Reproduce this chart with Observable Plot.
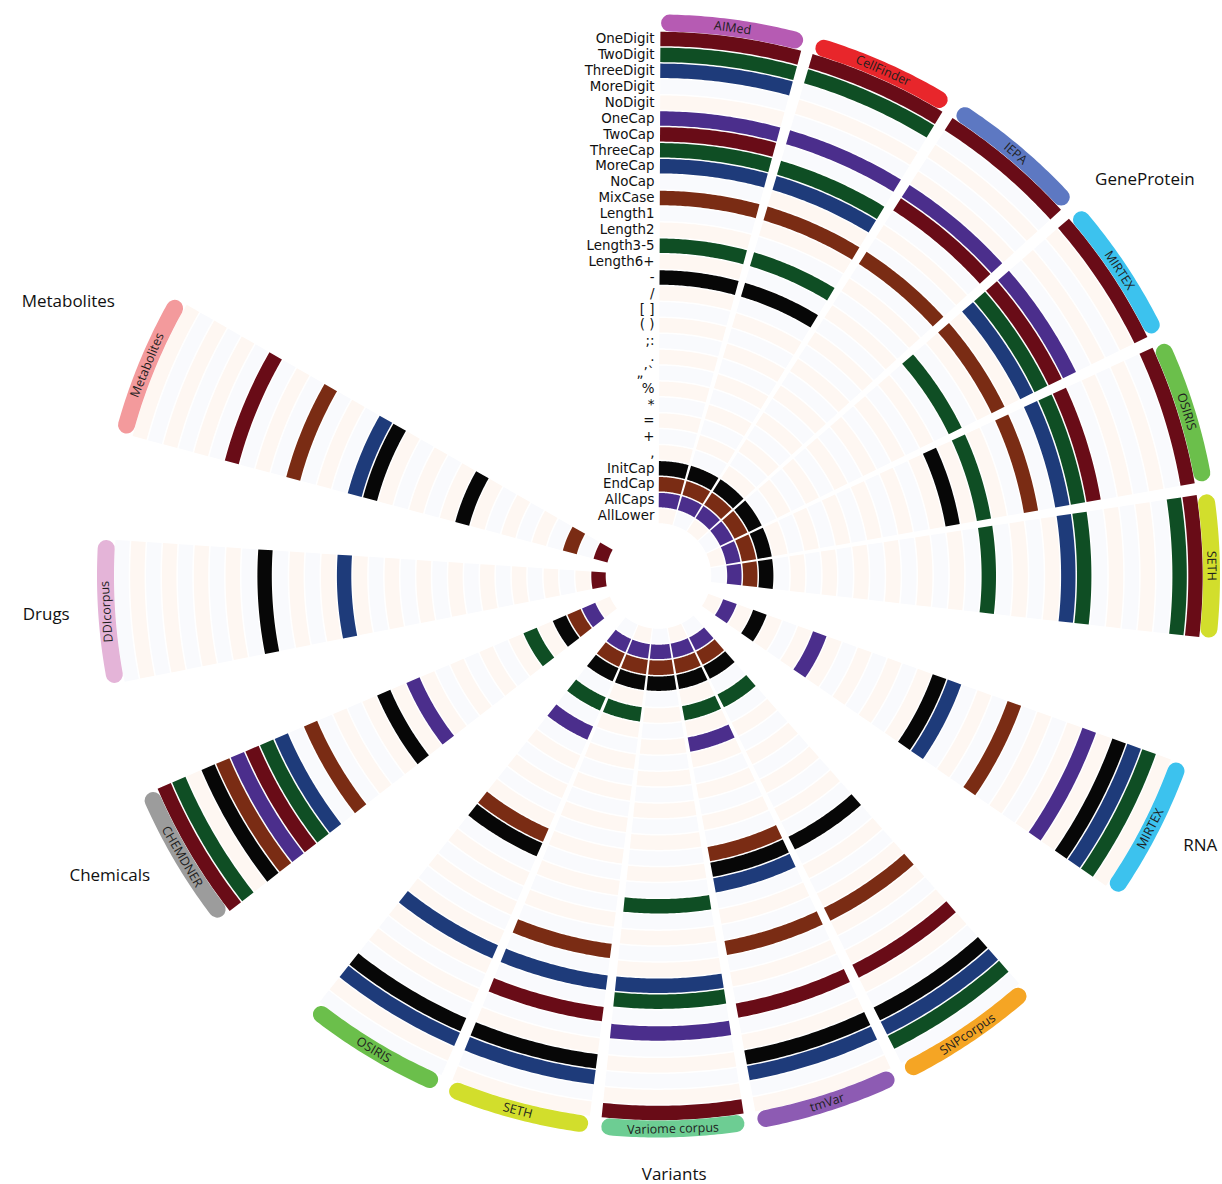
<!DOCTYPE html>
<html><head><meta charset="utf-8">
<script src="https://cdn.jsdelivr.net/npm/d3@7"></script>
<script src="https://cdn.jsdelivr.net/npm/@observablehq/plot@0.6"></script>
<style>body{margin:0;background:#fff;font-family:"Open Sans",sans-serif}</style>
</head><body><div id="chart"></div>
<script>
// ---------- data ----------
const features = ["OneDigit","TwoDigit","ThreeDigit","MoreDigit","NoDigit","OneCap","TwoCap","ThreeCap","MoreCap","NoCap","MixCase","Length1","Length2","Length3-5","Length6+","-","/","[ ]","( )",";:",".","\u201E\u2019`","%","*","=","+",",","InitCap","EndCap","AllCaps","AllLower"];
const groups = ["GeneProtein","RNA","Variants","Chemicals","Drugs","Metabolites"];
const corpora = ["AIMed","CellFinder","IEPA","MIRTEX","OSIRIS","SETH","MIRTEX","SNPcorpus","tmVar","Variome corpus","SETH","OSIRIS","CHEMDNER","DDIcorpus","Metabolites"];
const corpusGroup = ["GeneProtein","GeneProtein","GeneProtein","GeneProtein","GeneProtein","GeneProtein","RNA","Variants","Variants","Variants","Variants","Variants","Chemicals","Drugs","Metabolites"];
// indices (into features) of the highlighted cells for each corpus
const highlighted = [
  [0,1,2,5,6,7,8,10,13,15,27,28,29],        // AIMed
  [0,1,5,7,8,10,13,15,27,28,29],            // CellFinder
  [0,5,6,10,27,28,29],                      // IEPA
  [0,5,6,7,8,10,13,27,28,29],               // MIRTEX (GeneProtein)
  [0,6,7,8,10,13,15,27,28,29],              // OSIRIS (GeneProtein)
  [0,1,7,8,13,27,28,29],                    // SETH (GeneProtein)
  [1,2,3,5,10,14,15,23,27,29],              // MIRTEX (RNA)
  [1,2,3,6,10,15,25,27,28,29],              // SNPcorpus
  [2,3,6,10,14,15,16,23,25,27,28,29],       // tmVar
  [0,5,7,8,13,27,28,29],                    // Variome corpus
  [2,3,6,8,10,25,27,28,29],                 // SETH (Variants)
  [2,3,8,15,16,23,25,27,28,29],             // OSIRIS (Variants)
  [0,1,3,4,5,6,7,8,10,15,17,25,27,28,29],   // CHEMDNER
  [9,14,30],                                // DDIcorpus
  [6,10,14,15,21,28,30]                     // Metabolites
];

// ---------- styles / layout ----------
const featurePalette = ["#690c17","#0f4e24","#1e3b7a","#070707","#7a2c14","#4b2e8c"]; // cycles over feature rings
const paleColors = ["#fef7f2","#f9fafd"];
const corpusColor = ["#b65bb3","#e8262b","#5d78c2","#3cc2ee","#6bbf4b","#d2de2c","#3cc2ee","#f5a524","#8d5bb3","#6dcd93","#d2de2c","#6bbf4b","#9c9c9c","#e4b4d8","#f39a9c"];
const groupStartDeg = {GeneProtein:0.2, RNA:109.7, Variants:138.5, Chemicals:232, Drugs:258.8, Metabolites:284.9};
const groupLabelNudge = {GeneProtein:{da:-0.6, dr:0}, Variants:{da:0, dr:9}, Metabolites:{da:4.4, dr:19}};
const slotStep = 16.25, slotWidth = 15;
const deg = Math.PI/180;
const CX = 658, CY = 575.5, W = 1222, H = 1184;
const radius = d3.scaleLinear().domain([0, features.length-1]).range([537, 537 - 15.9*(features.length-1)]);
const labelR = 553, groupR = 590;

// angular position of each corpus
const groupCounter = {};
const corpusA0 = corpora.map((c, i) => {
  const g = corpusGroup[i];
  const k = groupCounter[g] = (groupCounter[g] ?? -1) + 1;
  return groupStartDeg[g] + k*slotStep;
});

const px = d => d.r*Math.sin(d.a*deg);
const py = d => d.r*Math.cos(d.a*deg);

function arcPoints(id, a0, a1, r, extra) {
  const n = Math.max(2, Math.ceil((a1 - a0)/0.4));
  return d3.range(n+1).map(k => ({id, a: a0 + (a1-a0)*k/n, r, ...extra}));
}

const cells = [];
corpora.forEach((c, ci) => {
  const a0 = corpusA0[ci], a1 = a0 + slotWidth;
  features.forEach((f, fi) => {
    const on = highlighted[ci].includes(fi);
    const color = on ? featurePalette[fi % 6] : paleColors[(fi + ci) % 2];
    cells.push(...arcPoints(`${ci}-${fi}`, a0, a1, radius(fi), {color, on}));
  });
});
const paleCells = cells.filter(d => !d.on);
const onCells = cells.filter(d => d.on);

const labelArcs = [];
corpora.forEach((c, ci) => {
  const a0 = corpusA0[ci], a1 = a0 + slotWidth;
  labelArcs.push(...arcPoints(`L${ci}`, a0 + 0.95, a1 - 0.95, labelR, {color: corpusColor[ci]}));
});

function readableRotation(a) {
  if (a < 100) return a;
  if (a < 250) return a - 180;
  return a - 360;
}
const corpusLabels = corpora.map((c, ci) => {
  const a = corpusA0[ci] + slotWidth/2;
  return {name: c, a, r: labelR, rot: readableRotation(a)};
});

const groupLabels = groups.map(g => {
  const idx = corpusGroup.map((x, i) => x === g ? i : -1).filter(i => i >= 0);
  const a0 = corpusA0[idx[0]], a1 = corpusA0[idx[idx.length-1]] + slotWidth;
  const nudge = groupLabelNudge[g] ?? {da:0, dr:0};
  const a = (a0 + a1)/2 + nudge.da;
  const s = Math.sin(a*deg);
  return {name: g, a, r: groupR + nudge.dr, anchor: s > 0.3 ? "start" : s < -0.3 ? "end" : "middle"};
});

const chart = Plot.plot({
  width: W, height: H, margin: 0,
  x: {domain: [-CX, W - CX], axis: null},
  y: {domain: [CY - H, CY], axis: null},
  color: {type: "identity"},
  style: {fontFamily: "'Open Sans', sans-serif", background: "#fff"},
  marks: [
    Plot.line(paleCells, {x: px, y: py, z: "id", stroke: "color", strokeWidth: 14.4, strokeLinecap: "butt"}),
    Plot.line(onCells, {x: px, y: py, z: "id", stroke: "color", strokeWidth: 14.4, strokeLinecap: "butt"}),
    Plot.line(labelArcs, {x: px, y: py, z: "id", stroke: "color", strokeWidth: 17, strokeLinecap: "round"}),
    Plot.text(corpusLabels, {x: px, y: py, text: "name", rotate: "rot", fontSize: 12.5, fill: "#1e1e1e"}),
    Plot.text(features, {x: -4, y: (d, i) => radius(i), text: d => d, textAnchor: "end", fontSize: 13.4, fontFamily: "'DejaVu Sans', sans-serif", fill: "#111"}),
    ...["start","end","middle"].map(anchor =>
      Plot.text(groupLabels.filter(d => d.anchor === anchor), {x: px, y: py, text: "name", textAnchor: anchor, fontSize: 17, fill: "#111"}))
  ]
});
document.getElementById("chart").appendChild(chart);
</script>
</body></html>
